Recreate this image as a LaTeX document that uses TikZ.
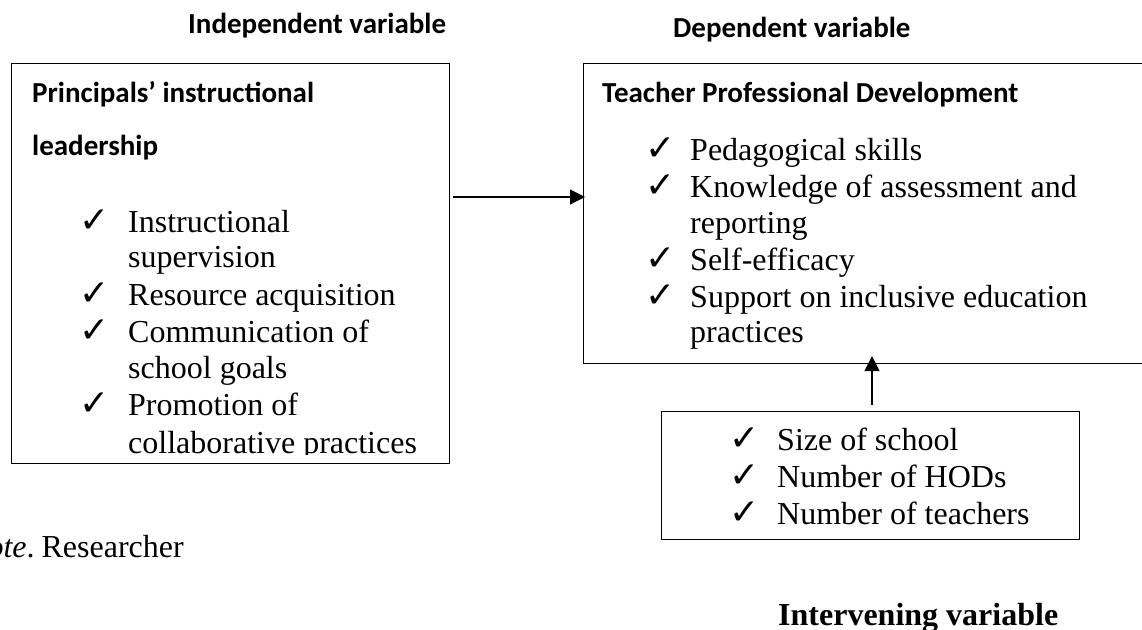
\documentclass[tikz,border=0pt]{standalone}
\usepackage{fontspec}
\setmainfont{Liberation Serif}
\newfontfamily\calfont{Carlito}
\newfontfamily\symfont{DejaVu Sans}
\usetikzlibrary{arrows.meta}
\tikzset{
  tnr/.style={font=\fontsize{32}{37}\selectfont, anchor=base west, inner sep=0pt},
  chk/.style={font=\symfont\bfseries\fontsize{36}{40}\selectfont, anchor=base west, inner sep=0pt, xshift=-3pt},
  hd/.style={font=\calfont\bfseries\fontsize{29}{33}\selectfont, anchor=base west, inner sep=0pt},
  boxframe/.style={draw, line width=1.1pt, anchor=north west, inner sep=0pt},
  conn/.style={line width=1.1pt, -{Triangle[length=15pt,width=15pt]}},
}
\begin{document}
\begin{tikzpicture}[x=1pt,y=-1pt]
\useasboundingbox (0,0) rectangle (1142,629);
\clip (0,0) rectangle (1142,629);

% headings
\node[hd] (hindep) at (188,33) {Independent variable};
\node[hd] (hdep) at (673,37) {Dependent variable};

% left box
\node[boxframe, minimum width=438pt, minimum height=400pt] (indep) at (11,63) {};
\node[hd] (t1) at (32,102) {Principals’ instructional};
\node[hd] (t2) at (32,155) {leadership};
\node[chk] (c1) at (82,232) {✓};
\node[tnr] (l1) at (128,232) {Instructional};
\node[tnr] (l2) at (128,267) {supervision};
\node[chk] (c2) at (82,305) {✓};
\node[tnr] (l3) at (128,305) {Resource acquisition};
\node[chk] (c3) at (82,342) {✓};
\node[tnr] (l4) at (128,342) {Communication of};
\node[tnr] (l5) at (128,378) {school goals};
\node[chk] (c4) at (82,415) {✓};
\node[tnr] (l6) at (128,415) {Promotion of};
\begin{scope}
\clip (12,64) rectangle (448,454);
\node[tnr] (l7) at (128,453) {collaborative practices};
\end{scope}

% right box
\node[boxframe, minimum width=600pt, minimum height=300pt] (dep) at (583,63) {};
\node[hd] (t3) at (602,102) {Teacher Professional Development};
\node[chk] (d1) at (648,160) {✓};
\node[tnr] (r1) at (690,160) {Pedagogical skills};
\node[chk] (d2) at (648,197) {✓};
\node[tnr] (r2) at (690,197) {Knowledge of assessment and};
\node[tnr] (r3) at (690,233) {reporting};
\node[chk] (d3) at (648,270) {✓};
\node[tnr] (r4) at (690,270) {Self-efficacy};
\node[chk] (d4) at (648,307) {✓};
\node[tnr] (r5) at (690,307) {Support on inclusive education};
\node[tnr] (r6) at (690,342) {practices};

% intervening box
\node[boxframe, minimum width=418pt, minimum height=128pt] (inter) at (661,411) {};
\node[chk] (e1) at (732,450) {✓};
\node[tnr] (i1) at (777,450) {Size of school};
\node[chk] (e2) at (732,487) {✓};
\node[tnr] (i2) at (777,487) {Number of HODs};
\node[chk] (e3) at (732,524) {✓};
\node[tnr] (i3) at (777,524) {Number of teachers};

% note and label
\node[tnr, anchor=base east] (note) at (184,557) {\textit{Note}.\hspace{7pt}Researcher};
\node[tnr, font=\bfseries\fontsize{32}{37}\selectfont] (hint) at (778,625) {Intervening variable};

% connectors
\coordinate (a1) at (453,197);
\coordinate (a2) at (872,405);
\draw[conn, shorten >=-2pt] (a1) -- (a1 -| dep.west);
\draw[conn, shorten >=-8pt] (a2) -- (a2 |- dep.south);
\end{tikzpicture}
\end{document}
